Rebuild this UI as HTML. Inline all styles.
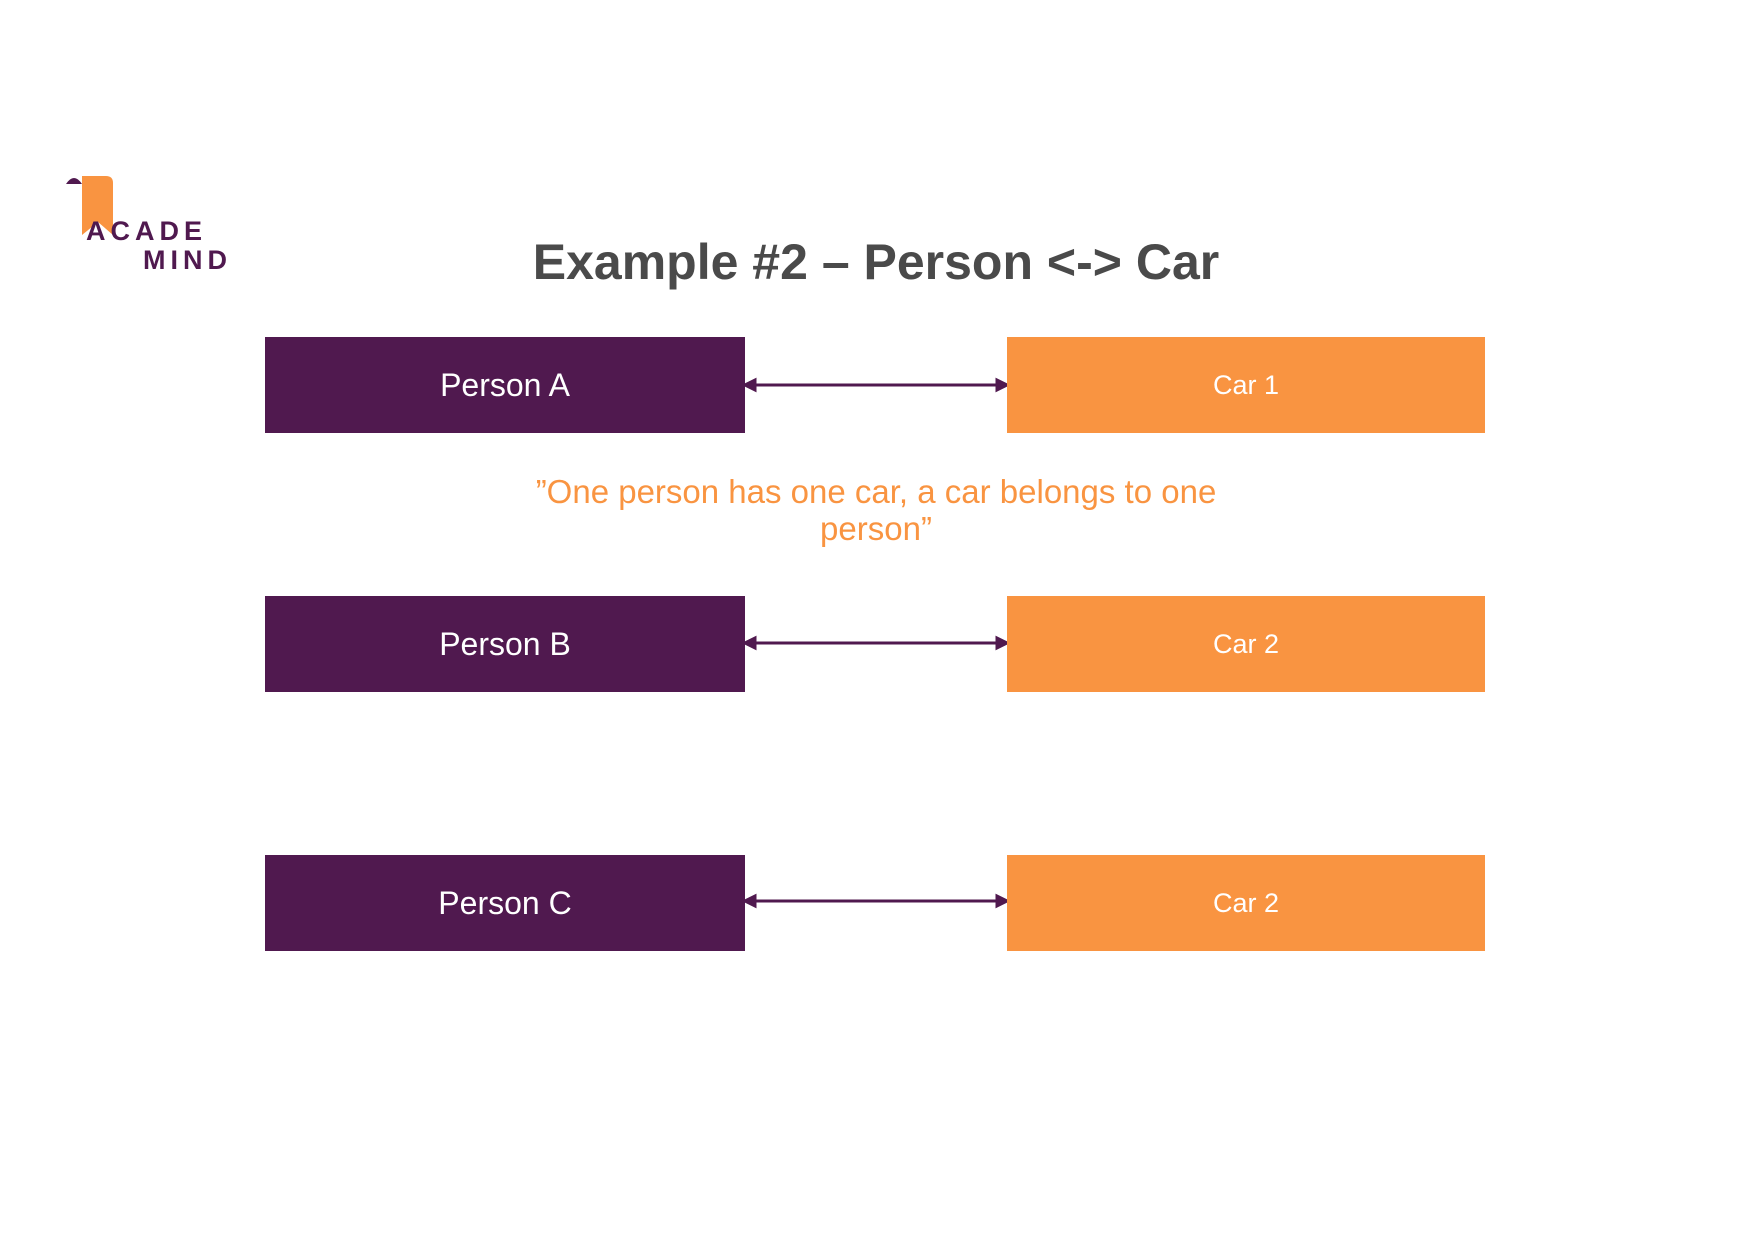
<!DOCTYPE html>
<html><head><style>
body{margin:0;width:1754px;height:1240px;background:#fff;position:relative;overflow:hidden;font-family:"Liberation Sans",sans-serif}
.b{position:absolute;height:96px;display:flex;align-items:center;justify-content:center;color:#fff}
.p{background:#50194f;left:265px;width:480px;font-size:32px}
.c{background:#f99441;left:1007px;width:478px;font-size:27px}
.t{position:absolute;white-space:nowrap}
</style></head><body>
<svg width="1754" height="1240" style="position:absolute;left:0;top:0">
<path d="M82 176 H106 Q113 176 113 183 V235 L98 222 L82 235 Z" fill="#f99441"/>
<path d="M66 184 Q74 172 82 184 Z" fill="#50194f"/>
<g stroke="#50194f" stroke-width="3" fill="#50194f">
<line x1="748" y1="385" x2="1004" y2="385"/><path d="M745 385 l10 -5 v10z M1007 385 l-10 -5 v10z"/>
<line x1="748" y1="643" x2="1004" y2="643"/><path d="M745 643 l10 -5 v10z M1007 643 l-10 -5 v10z"/>
<line x1="748" y1="901" x2="1004" y2="901"/><path d="M745 901 l10 -5 v10z M1007 901 l-10 -5 v10z"/>
</g>
</svg>
<div class="t" style="left:86px;top:216px;font-size:27px;font-weight:900;color:#50194f;letter-spacing:5px">ACADE</div>
<div class="t" style="left:143px;top:245px;font-size:27px;font-weight:900;color:#50194f;letter-spacing:5px">MIND</div>
<div class="t" style="left:0;width:1752px;text-align:center;top:233px;font-size:50px;font-weight:bold;color:#4a4a4a">Example #2 – Person &lt;-&gt; Car</div>
<div class="b p" style="top:337px">Person A</div>
<div class="b c" style="top:337px">Car 1</div>
<div class="t" style="left:0;width:1752px;text-align:center;top:473px;font-size:33px;color:#f99441;line-height:37px">”One person has one car, a car belongs to one<br>person”</div>
<div class="b p" style="top:596px">Person B</div>
<div class="b c" style="top:596px">Car 2</div>
<div class="b p" style="top:855px">Person C</div>
<div class="b c" style="top:855px">Car 2</div>
</body></html>
